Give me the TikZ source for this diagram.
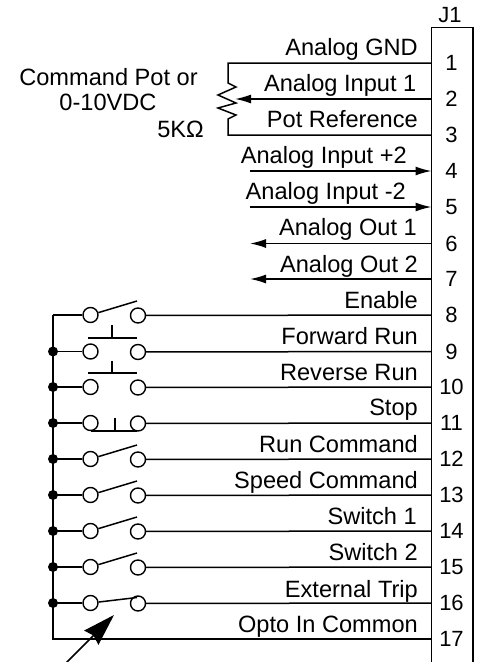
\documentclass[tikz,border=0pt]{standalone}
\usepackage{fontspec}
\setmainfont{Liberation Sans}
\usetikzlibrary{arrows.meta}
\tikzset{
  wire/.style={line width=1.5pt,black},
  lbl/.style={anchor=base east,inner sep=0pt,yshift=-0.8pt,font=\fontsize{23.6}{26}\selectfont,text=black},
  free/.style={anchor=base,inner sep=0pt,yshift=-0.8pt,font=\fontsize{23.6}{26}\selectfont,text=black},
  pin/.style={inner sep=0pt,font=\fontsize{22}{24}\selectfont,text=black},
  term/.style={circle,draw=black,line width=1.4pt,fill=white,minimum size=15pt,inner sep=0pt},
  jn/.style={circle,fill=black,minimum size=10pt,inner sep=0pt},
  sig/.style={wire,-{Latex[length=16pt,width=9pt]}}
}
\begin{document}
\begin{tikzpicture}[x=1pt,y=-1pt]
\useasboundingbox (0,0) rectangle (479,662);
% connector block
\coordinate (jbl) at (431.5,662);
\coordinate (jtl) at (431.5,27.5);
\coordinate (jtr) at (473,27.5);
\coordinate (jbr) at (473,662);
\draw[wire] (jbl) -- (jtl) -- (jtr) -- (jbr);
\node[pin,anchor=base] (j1) at (450,22) {J1};
% pins and numbers
\foreach \n/\y in {1/63,2/99,3/135,4/171,5/207,6/243.5,7/279,8/315,9/351.5,10/387,11/423,12/459,13/495,14/531,15/567,16/603,17/639}{
  \coordinate (t\n) at (431.5,\y);
  \node[pin] (n\n) at (451.5,\y) {\n};
}
% pot
\coordinate (gc) at (228,63);
\coordinate (rc) at (228,135);
\coordinate (wp) at (235,99);
\coordinate (za) at (228,83);
\coordinate (zb) at (228,119);
\draw[wire] (t1) -- (gc) -- (za) -- (236,87) -- (218,95) -- (236,103) -- (218,108) -- (236,115) -- (zb) -- (rc) -- (t3);
\draw[sig] (t2) -- (wp);
\draw[line width=2pt,black] (270,99) -- (245,99);
% analog signals
\coordinate (a4) at (250,171);
\coordinate (a5) at (250,207);
\coordinate (a6) at (250,243.5);
\coordinate (a7) at (250,279);
\draw[sig] (a4) -- (t4);
\draw[sig] (a5) -- (t5);
\draw[sig] (t6) -- (a6);
\draw[sig] (t7) -- (a7);
% labels
\node[free] (cp) at (108.5,85) {Command Pot or};
\node[free] (vd) at (108,110) {0-10VDC};
\node[lbl] (ko) at (204,137) {5KΩ};
\node[lbl] (l1) at (418,55) {Analog GND};
\node[lbl] (l2) at (416.5,91) {Analog Input 1};
\node[lbl] (l3) at (418,127) {Pot Reference};
\node[lbl] (l4) at (407,163) {Analog Input +2};
\node[lbl] (l5) at (406,199) {Analog Input -2};
\node[lbl] (l6) at (417,235) {Analog Out 1};
\node[lbl] (l7) at (418,272) {Analog Out 2};
\node[lbl] (l8) at (418,308) {Enable};
\node[lbl] (l9) at (418,344) {Forward Run};
\node[lbl] (l10) at (418,380) {Reverse Run};
\node[lbl] (l11) at (418,415) {Stop};
\node[lbl] (l12) at (418,452) {Run Command};
\node[lbl] (l13) at (418,488) {Speed Command};
\node[lbl] (l14) at (417,524) {Switch 1};
\node[lbl] (l15) at (418,560) {Switch 2};
\node[lbl] (l16) at (418,597) {External Trip};
\node[lbl] (l17) at (418,632) {Opto In Common};
% common rail
\coordinate (rt) at (53,315);
\coordinate (rb) at (53,639);
\draw[wire] (rt) -- (rb) -- (t17);
% switch rows
\foreach \n/\y in {8/315,9/351.5,10/387,11/423,12/459,13/495,14/531,15/567,16/603}{
  \coordinate (r\n) at (53,\y);
  \node[term] (a\n) at (90.5,\y) {};
  \node[term] (b\n) at (138,\y+0.5) {};
  \draw[wire] (r\n) -- (a\n);
  \draw[wire] (b\n) -- (t\n);
}
\foreach \n in {9,10,11,12,13,14,15,16}{ \node[jn] (d\n) at (r\n) {}; }
% open contacts
\foreach \n/\y in {8/315,12/459,13/495,14/531,15/567}{
  \draw[wire] (a\n) -- (137,\y-14);
}
\draw[wire] (a16) -- (137,597.5);
% push buttons
\draw[wire] (88,338) -- (136.5,338) (112,325) -- (112,338);
\draw[wire] (88,373) -- (136.5,373) (112,361) -- (112,373);
\draw[wire] (91,431) -- (137,431) (115,418) -- (115,431);
% pointer
\coordinate (ps) at (65,664);
\coordinate (pe) at (114,615);
\draw[wire,-{Stealth[length=32pt,width=20pt,inset=3pt]}] (ps) -- (pe);
\end{tikzpicture}
\end{document}
